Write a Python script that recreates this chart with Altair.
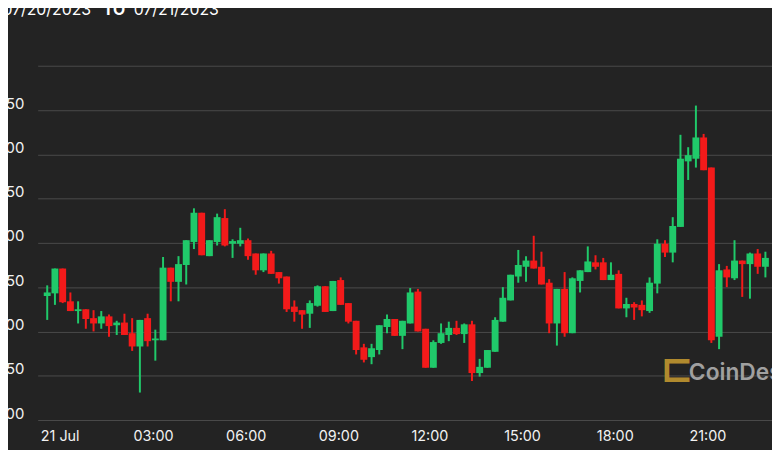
import altair as alt
import pandas as pd

# 15-minute candles, BTC-USD, 21 Jul 2023 (UTC)
opens = [29840, 29843, 29871, 29834, 29823, 29825, 29815, 29809, 29817, 29807,
         29810, 29798, 29783, 29815, 29790, 29790, 29872, 29856, 29875, 29901,
         29934, 29885, 29901, 29928, 29899, 29899, 29903, 29888, 29869, 29888,
         29867, 29862, 29828, 29824, 29820, 29829, 29851, 29823, 29858, 29832,
         29812, 29782, 29771, 29779, 29805, 29814, 29795, 29809, 29845, 29803,
         29759, 29787, 29796, 29804, 29797, 29808, 29753, 29759, 29777, 29811,
         29835, 29862, 29873, 29880, 29873, 29855, 29809, 29848, 29798, 29857,
         29867, 29878, 29878, 29858, 29865, 29826, 29831, 29830, 29823, 29854,
         29899, 29889, 29918, 29992, 29995, 30019, 29985, 29794, 29870, 29860,
         29880, 29876, 29888, 29873]
highs = [29852, 29871, 29871, 29844, 29834, 29825, 29824, 29823, 29819, 29812,
         29820, 29815, 29813, 29820, 29802, 29884, 29872, 29885, 29903, 29939,
         29934, 29903, 29933, 29938, 29904, 29917, 29905, 29888, 29888, 29891,
         29867, 29862, 29835, 29824, 29835, 29852, 29851, 29857, 29861, 29832,
         29812, 29786, 29786, 29807, 29819, 29814, 29812, 29849, 29848, 29803,
         29790, 29809, 29811, 29812, 29809, 29812, 29769, 29779, 29816, 29850,
         29864, 29892, 29885, 29908, 29890, 29859, 29848, 29867, 29861, 29869,
         29896, 29886, 29883, 29878, 29869, 29838, 29833, 29835, 29861, 29904,
         29903, 29929, 30022, 30008, 30055, 30023, 29985, 29876, 29874, 29903,
         29880, 29889, 29893, 29890]
lows = [29813, 29830, 29832, 29823, 29809, 29803, 29800, 29803, 29794, 29796,
        29796, 29778, 29731, 29783, 29767, 29790, 29834, 29834, 29853, 29893,
        29886, 29885, 29897, 29896, 29883, 29896, 29881, 29864, 29867, 29865,
        29854, 29822, 29811, 29803, 29804, 29828, 29822, 29823, 29830, 29809,
        29774, 29765, 29763, 29774, 29798, 29795, 29780, 29809, 29800, 29759,
        29759, 29786, 29789, 29796, 29787, 29744, 29749, 29759, 29777, 29811,
        29835, 29855, 29856, 29871, 29853, 29798, 29784, 29794, 29798, 29844,
        29867, 29870, 29858, 29858, 29826, 29816, 29813, 29817, 29821, 29843,
        29884, 29878, 29918, 29971, 29985, 29982, 29787, 29780, 29850, 29858,
        29839, 29837, 29865, 29861]
closes = [29844, 29871, 29833, 29823, 29825, 29814, 29809, 29817, 29806, 29810,
          29796, 29783, 29813, 29789, 29792, 29872, 29856, 29876, 29903, 29934,
          29886, 29903, 29929, 29897, 29902, 29903, 29885, 29869, 29888, 29865,
          29860, 29825, 29822, 29819, 29832, 29851, 29822, 29857, 29830, 29811,
          29779, 29768, 29781, 29807, 29814, 29795, 29812, 29844, 29800, 29759,
          29788, 29798, 29804, 29797, 29808, 29753, 29760, 29779, 29813, 29838,
          29864, 29875, 29880, 29871, 29853, 29809, 29848, 29798, 29860, 29869,
          29879, 29873, 29858, 29864, 29826, 29831, 29827, 29824, 29855, 29899,
          29889, 29919, 29995, 29999, 30019, 29982, 29790, 29869, 29861, 29880,
          29876, 29888, 29873, 29883]

times = [f"2023-07-21T{(15 * i) // 60:02d}:{(15 * i) % 60:02d}:00Z" for i in range(len(opens))]

y_ticks = [29700, 29750, 29800, 29850, 29900, 29950, 30000, 30050, 30100]
x_tick_hours = [0, 3, 6, 9, 12, 15, 18, 21]
x_tick_labels = ["21 Jul", "03:00", "06:00", "09:00", "12:00", "15:00", "18:00", "21:00"]

df = pd.DataFrame({"t": times, "open": opens, "high": highs, "low": lows, "close": closes})
df["dir"] = ["up" if c >= o else "down" for o, c in zip(opens, closes)]

GREEN = "#20c96a"
RED = "#f31a1a"
FONT = "Inter"

x_enc = alt.X(
    "t:T",
    scale=alt.Scale(
        type="utc",
        domain=[
            alt.DateTime(year=2023, month=7, date=20, hours=23, minutes=51, seconds=6, utc=True),
            alt.DateTime(year=2023, month=7, date=21, hours=23, minutes=18, seconds=12, utc=True),
        ],
    ),
    axis=alt.Axis(
        values=[alt.DateTime(year=2023, month=7, date=21, hours=h, utc=True) for h in x_tick_hours],
        labelExpr="[" + ",".join(f"'{s}'" for s in x_tick_labels) + "][round(utchours(datum.value)/3)]",
        grid=False, domain=False, ticks=False,
        labelAlign="left", labelOffset=-7, labelBaseline="top", labelPadding=10,
        labelFont=FONT, labelFontSize=14.5, labelColor="#f2f2f2", title=None,
    ),
)

y_scale = alt.Scale(domain=[29700, 30100], nice=False, zero=False)
y_axis = alt.Axis(
    values=y_ticks,
    labelExpr="datum.value >= 30100 ? '' : format(datum.value, ',')",
    grid=True, gridColor="#4b4b4b", gridWidth=1,
    domain=False, ticks=False,
    labelPadding=14, labelFont=FONT, labelFontSize=15, labelColor="#f2f2f2",
    labelBaseline="alphabetic", labelOffset=-2, title=None,
)

color_enc = alt.Color("dir:N", scale=alt.Scale(domain=["up", "down"], range=[GREEN, RED]), legend=None)

base = alt.Chart(df)
wicks = base.mark_rule(strokeWidth=2).encode(
    x=x_enc,
    y=alt.Y("low:Q", scale=y_scale, axis=y_axis),
    y2="high:Q",
    color=color_enc,
)
bodies = base.mark_bar(size=7).encode(
    x="t:T",
    y=alt.Y("open:Q", scale=y_scale),
    y2="close:Q",
    color=color_enc,
)

title_df = pd.DataFrame({"a": ["07/20/2023"], "b": ["TO"], "c": ["07/21/2023"]})
t1 = alt.Chart(title_df).mark_text(align="right", baseline="alphabetic", font=FONT, fontSize=16,
                                   color="#ffffff").encode(text="a:N", x=alt.value(54), y=alt.value(-51))
t2 = alt.Chart(title_df).mark_text(align="left", baseline="alphabetic", font=FONT, fontSize=16,
                                   fontWeight="bold", color="#ffffff").encode(text="b:N", x=alt.value(66), y=alt.value(-51))
t3 = alt.Chart(title_df).mark_text(align="left", baseline="alphabetic", font=FONT, fontSize=16,
                                   color="#ffffff").encode(text="c:N", x=alt.value(97), y=alt.value(-51))

wm_df = pd.DataFrame({"icon": ["⊏"], "name": ["CoinDesk"]})
wm_icon = alt.Chart(wm_df).mark_text(align="center", baseline="middle", font="DejaVu Sans", fontSize=40,
                                     fontWeight="bold", color="#b08a2e").encode(
    text="icon:N", x=alt.value(646), y=alt.value(308))
wm_text = alt.Chart(wm_df).mark_text(align="left", baseline="alphabetic", font=FONT, fontSize=23,
                                     fontWeight=600, color="#a0a0a0").encode(
    text="name:N", x=alt.value(658), y=alt.value(318))

chart = alt.layer(wicks, bodies, t1, t2, t3, wm_icon, wm_text).properties(
    width=742, height=358,
    autosize=alt.AutoSizeParams(type="none"),
    padding={"left": 30, "top": 56, "right": 0, "bottom": 28},
    background="#232323",
).configure_view(stroke=None)

chart.save("out.html", embed_options={"renderer": "svg", "actions": False})
